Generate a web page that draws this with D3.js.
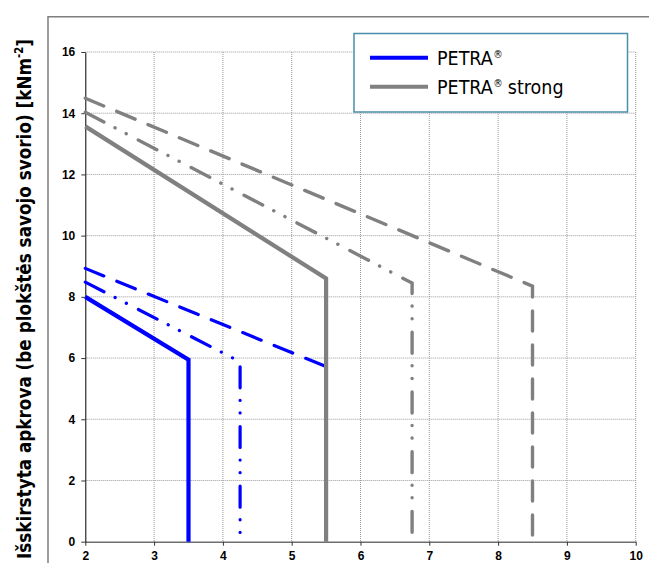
<!DOCTYPE html>
<html>
<head>
<meta charset="utf-8">
<script src="https://cdn.jsdelivr.net/npm/d3@7"></script>
<style>
  html, body { margin: 0; padding: 0; background: #fff; }
  svg { display: block; }
</style>
</head>
<body>
<svg id="chart" width="649" height="563"></svg>
<script>
// Axis ticks
const xTicks = [2, 3, 4, 5, 6, 7, 8, 9, 10];
const yTicks = [0, 2, 4, 6, 8, 10, 12, 14, 16];

// PETRA® (blue) – three load curves: solid, dash-dot-dot, dashed
const petraSolidX = [2, 3.5, 3.5];
const petraSolidY = [8.0, 5.95, 0];
const petraDashDotX = [2, 4.25, 4.25];
const petraDashDotY = [8.48, 5.88, 0];
const petraDashX = [2, 5.5, 5.5];
const petraDashY = [8.93, 5.72, 0];

// PETRA® strong (grey)
const strongSolidX = [2, 5.5, 5.5];
const strongSolidY = [13.57, 8.6, 0];
const strongDashDotX = [2, 6.75, 6.75];
const strongDashDotY = [14.03, 8.45, 0];
const strongDashX = [2, 8.5, 8.5];
const strongDashY = [14.49, 8.35, 0];

const legendLabels = ["PETRA", "PETRA"];
const legendSuffix = ["", "strong"];

const BLUE = "#0000ff";
const GREY = "#808080";
const FONT_NARROW = "'Liberation Sans Narrow', 'DejaVu Sans Condensed', 'Liberation Sans', sans-serif";
const FONT_AXIS = "'Liberation Sans', Arial, sans-serif";

const svg = d3.select("#chart");

// outer chart frame
svg.append("rect")
  .attr("x", 48).attr("y", 16.75)
  .attr("width", 700).attr("height", 700)
  .attr("fill", "none").attr("stroke", "#7f7f7f").attr("stroke-width", 1.5);

const x = d3.scaleLinear().domain([2, 10]).range([85.3, 635.7]);
const y = d3.scaleLinear().domain([0, 16]).range([541.7, 52]);

// dotted grid
const grid = svg.append("g").attr("stroke", "#9a9a9a").attr("stroke-width", 1)
  .attr("stroke-dasharray", "1,1");
grid.selectAll("line.v").data(xTicks.filter(d => d > 2)).join("line")
  .attr("class", "v")
  .attr("x1", d => x(d)).attr("x2", d => x(d))
  .attr("y1", y(16)).attr("y2", y(0));
grid.selectAll("line.h").data(yTicks.filter(d => d > 0)).join("line")
  .attr("class", "h")
  .attr("x1", x(2)).attr("x2", x(10))
  .attr("y1", d => y(d)).attr("y2", d => y(d));

// axes
const xAxis = svg.append("g")
  .attr("transform", `translate(0,${y(0)})`)
  .call(d3.axisBottom(x).tickValues(xTicks).tickFormat(d3.format("d"))
    .tickSize(4).tickPadding(6).tickSizeOuter(0));
xAxis.select(".domain").attr("stroke", "#6e6e6e").attr("stroke-width", 1.5);
xAxis.selectAll(".tick line").attr("stroke", "#333");
xAxis.selectAll("text").attr("font-family", FONT_AXIS).attr("font-weight", "bold")
  .attr("font-size", 12).attr("fill", "#000");

const yAxis = svg.append("g")
  .attr("transform", `translate(${x(2)},0)`)
  .call(d3.axisLeft(y).tickValues(yTicks).tickFormat(d3.format("d"))
    .tickSize(4).tickPadding(6).tickSizeOuter(0));
yAxis.select(".domain").attr("stroke", "#000").attr("stroke-width", 1);
yAxis.selectAll(".tick line").attr("stroke", "#333");
yAxis.selectAll("text").attr("font-family", FONT_AXIS).attr("font-weight", "bold")
  .attr("font-size", 12).attr("fill", "#000");

// load curves
const line = d3.line().x(d => x(d[0])).y(d => y(d[1]));
const zip = (xs, ys) => xs.map((v, i) => [v, ys[i]]);
const DASH = "20,14";
const DASHDOT = "21,12.5,0.1,12.5,0.1,13.5";

const curves = [
  { xs: petraDashX, ys: petraDashY, color: BLUE, w: 3.2, dash: DASH },
  { xs: petraDashDotX, ys: petraDashDotY, color: BLUE, w: 3.2, dash: DASHDOT },
  { xs: petraSolidX, ys: petraSolidY, color: BLUE, w: 4.2, dash: null },
  { xs: strongDashX, ys: strongDashY, color: GREY, w: 3.4, dash: DASH },
  { xs: strongDashDotX, ys: strongDashDotY, color: GREY, w: 3.4, dash: DASHDOT },
  { xs: strongSolidX, ys: strongSolidY, color: GREY, w: 4.2, dash: null }
];
svg.append("g").selectAll("path").data(curves).join("path")
  .attr("d", c => line(zip(c.xs, c.ys)))
  .attr("fill", "none")
  .attr("stroke", c => c.color)
  .attr("stroke-width", c => c.w)
  .attr("stroke-linecap", c => c.dash ? "round" : "butt")
  .attr("stroke-linejoin", "miter")
  .attr("stroke-dasharray", c => c.dash);

// legend: name, superscript ® and optional suffix as separate runs
const legend = svg.append("g");
legend.append("rect")
  .attr("x", 354).attr("y", 33.5).attr("width", 273.5).attr("height", 78.5)
  .attr("fill", "#fff").attr("stroke", "#4b8daa").attr("stroke-width", 1.5);
const legendColors = [BLUE, GREY];
const legendY = [57.7, 86.7];
legendColors.forEach((c, i) => {
  legend.append("line")
    .attr("x1", 370).attr("x2", 428)
    .attr("y1", legendY[i]).attr("y2", legendY[i])
    .attr("stroke", c).attr("stroke-width", 4);
  const base = legendY[i] + 7;
  const name = legend.append("text")
    .attr("x", 437).attr("y", base)
    .attr("font-family", FONT_NARROW).attr("font-size", 19.5).attr("fill", "#000")
    .text(legendLabels[i]);
  let xEnd = 437 + name.node().getComputedTextLength() + 0.5;
  const reg = legend.append("text")
    .attr("x", xEnd).attr("y", base - 7)
    .attr("font-family", FONT_NARROW).attr("font-size", 10.5).attr("fill", "#000")
    .text("®");
  xEnd += reg.node().getComputedTextLength();
  if (legendSuffix[i]) {
    legend.append("text")
      .attr("x", xEnd + 5).attr("y", base)
      .attr("font-family", FONT_NARROW).attr("font-size", 19.5).attr("fill", "#000")
      .text(legendSuffix[i]);
  }
});

// y-axis title
const title = svg.append("text")
  .attr("transform", "translate(31,299) rotate(-90)")
  .attr("text-anchor", "middle")
  .attr("font-family", FONT_NARROW).attr("font-weight", "bold")
  .attr("font-size", 20).attr("fill", "#000")
  .attr("textLength", 520).attr("lengthAdjust", "spacingAndGlyphs");
title.append("tspan").text("Išskirstyta apkrova (be plokštės savojo svorio)  [kNm");
title.append("tspan").attr("font-size", 12).attr("dy", -8).text("-2");
title.append("tspan").attr("dy", 8).text("]");
</script>
</body>
</html>
